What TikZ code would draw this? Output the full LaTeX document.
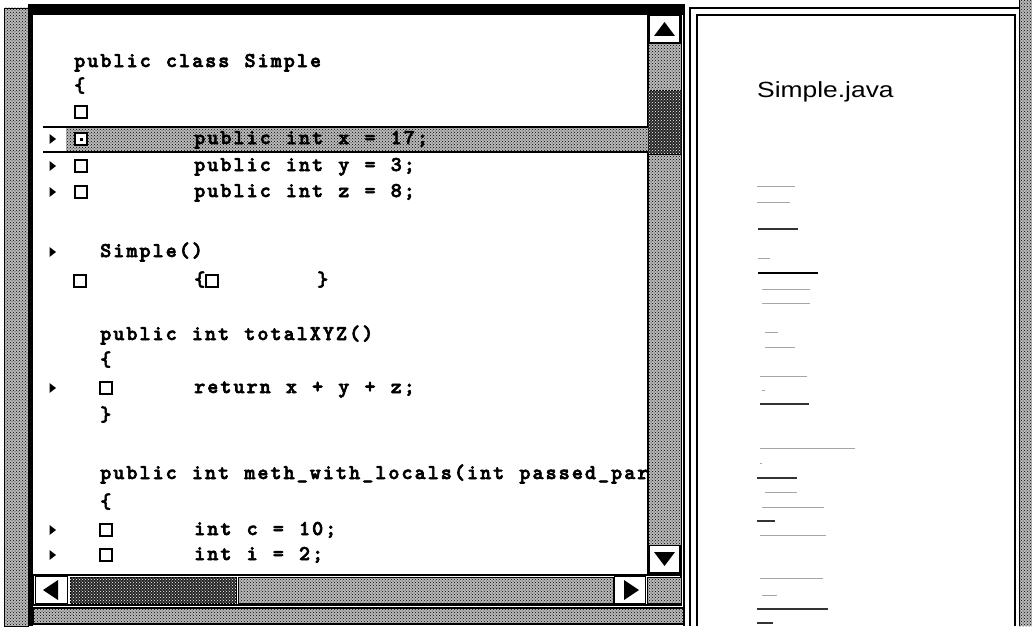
\documentclass[tikz,border=0pt]{standalone}
\usepackage{fontspec}
\usetikzlibrary{patterns}
\newfontfamily\panelfont{Liberation Sans}
\newfontfamily\codefont{lmmonolt10-bold.otf}[FakeBold=3]
\newcommand\cellw{13.1pt}
\def\mono#1{\monoloop#1\relax}
\def\monoloop#1{\ifx#1\relax\else\makebox[\cellw][c]{#1}\expandafter\monoloop\fi}
\tikzset{
  code/.style={anchor=base west, inner sep=0pt, font=\codefont\fontsize{21}{22}\selectfont},
  stip/.style={fill=gray!55, postaction={pattern=crosshatch dots, pattern color=black}},
  darkstip/.style={fill=black!85, postaction={pattern=crosshatch dots, pattern color=white}},
  sq/.style={draw, line width=2.2pt, minimum size=12.5pt, inner sep=0pt, fill=white},
  btn/.style={draw, line width=1.2pt, fill=white},
  thumb/.style={gray!70, line width=0.9pt},
  thumbd/.style={black!80, line width=1.2pt},
}
\newcommand\tri[1]{\fill (49.5,#1-5) -- (56,#1) -- (49.5,#1+5) -- cycle;}
\begin{document}
\begin{tikzpicture}[x=1pt,y=-1pt]
\useasboundingbox (0,0) rectangle (1032,626);
\fill[white] (0,0) rectangle (1032,626);
% left stipple band and frame
\draw[stip, line width=0.8pt] (4,8) rectangle (28,626);
\fill (28,4) rectangle (33,626);
\fill (28,4) rectangle (684,15);
\draw[line width=1.5pt] (684,4) -- (684,626);
% vertical scrollbar
\draw[line width=1.2pt, fill=white] (648,15) rectangle (681,573);
\draw[stip] (648,43) rectangle (681,90);
\draw[darkstip] (648,90) rectangle (681,154);
\draw[stip] (648,154) rectangle (681,545);
\node[btn, minimum width=31pt, minimum height=27pt, inner sep=0pt] (up) at (664.5,29) {};
\fill (654,36) -- (664.5,22) -- (675,36) -- cycle;
\node[btn, minimum width=31pt, minimum height=27pt, inner sep=0pt] (down) at (664.5,559) {};
\fill (654,552) -- (664.5,566) -- (675,552) -- cycle;
% horizontal scrollbar
\draw[line width=1.2pt, fill=white] (33,575) rectangle (681,605);
\node[btn, minimum width=32pt, minimum height=27pt, inner sep=0pt] (left) at (51.5,590) {};
\fill (43,590) -- (58,580) -- (58,600) -- cycle;
\draw[darkstip] (70,577) rectangle (236,603);
\draw[stip] (238,577) rectangle (613,603);
\node[btn, minimum width=31pt, minimum height=27pt, inner sep=0pt] (right) at (630,590) {};
\fill (624,580) -- (639,590) -- (624,600) -- cycle;
\draw[stip] (647,577) rectangle (681,603);
% bottom band
\draw[stip, line width=1.2pt] (33,608) rectangle (684,624);
% right panel frame
\draw[line width=1.2pt] (690,626) -- (690,8) -- (1019,8);
\draw[line width=2.6pt] (697,626) -- (697,15) -- (1015,15) -- (1015,626);
\draw[stip, draw=none] (1019,0) rectangle (1032,626);
\draw[line width=1pt] (1019,0) -- (1019,626);
% highlighted row
\draw[stip, draw=none] (66,127) rectangle (648,152);
\draw[line width=1.6pt] (43,127) -- (648,127);
\draw[line width=1.6pt] (43,152) -- (648,152);
% code text
\begin{scope}
\clip (33,15) rectangle (648,573);
\node[code] (l1) at (73,67) {\mono{public~class~Simple}};
\node[code] (l2) at (73,92) {\mono{\{}};
\node[code] (l4) at (193,144) {\mono{public~int~x~=~17;}};
\node[code] (l5) at (193,171) {\mono{public~int~y~=~3;}};
\node[code] (l6) at (193,197) {\mono{public~int~z~=~8;}};
\node[code] (l7) at (99,257) {\mono{Simple()}};
\node[code] (l8a) at (193,286) {\mono{\{}};
\node[code] (l8b) at (316,286) {\mono{\}}};
\node[code] (l9) at (99,340) {\mono{public~int~totalXYZ()}};
\node[code] (l10) at (99,366) {\mono{\{}};
\node[code] (l11) at (193,393) {\mono{return~x~+~y~+~z;}};
\node[code] (l12) at (99,421) {\mono{\}}};
\node[code] (l13) at (99,479) {\mono{public~int~meth\_with\_locals(int~passed\_para}};
\node[code] (l14) at (99,508) {\mono{\{}};
\node[code] (l15) at (193,535) {\mono{int~c~=~10;}};
\node[code] (l16) at (193,560) {\mono{int~i~=~2;}};
\end{scope}
% squares
\node[sq] (s3) at (81,112) {};
\node[sq] (s4) at (81,139) {};
\fill (79.5,137.5) rectangle (82.5,140.5);
\node[sq] (s5) at (81,166) {};
\node[sq] (s6) at (81,192) {};
\node[sq] (s8) at (80,281) {};
\node[sq] (s8b) at (212,281) {};
\node[sq] (s11) at (106,388) {};
\node[sq] (s15) at (106,530) {};
\node[sq] (s16) at (106,555) {};
% triangles
\tri{139}\tri{166}\tri{192}\tri{252}\tri{388}\tri{530}\tri{555}
% right panel
\node[anchor=base west, inner sep=0pt, font=\panelfont\fontsize{22}{24}\selectfont] (title) at (757,97) {\scalebox{1.2}[1]{Simple.java}};
\foreach \y/\a/\b in {186/757/795,202/757/790,258/758/770,289/762/810,303/762/810,332/765/778,347/765/795,376/760/807,390/762/765,448/760/855,463/760/762,492/765/797,507/762/824,535/760/826,578/760/823,595/762/777}
  \draw[thumb] (\a,\y) -- (\b,\y);
\foreach \y/\a/\b in {229/758/798,404/760/809,478/757/797,521/757/775,609/757/828,623/757/773}
  \draw[thumbd] (\a,\y) -- (\b,\y);
\draw[black, line width=2pt] (758,273) -- (818,273);
\end{tikzpicture}
\end{document}
